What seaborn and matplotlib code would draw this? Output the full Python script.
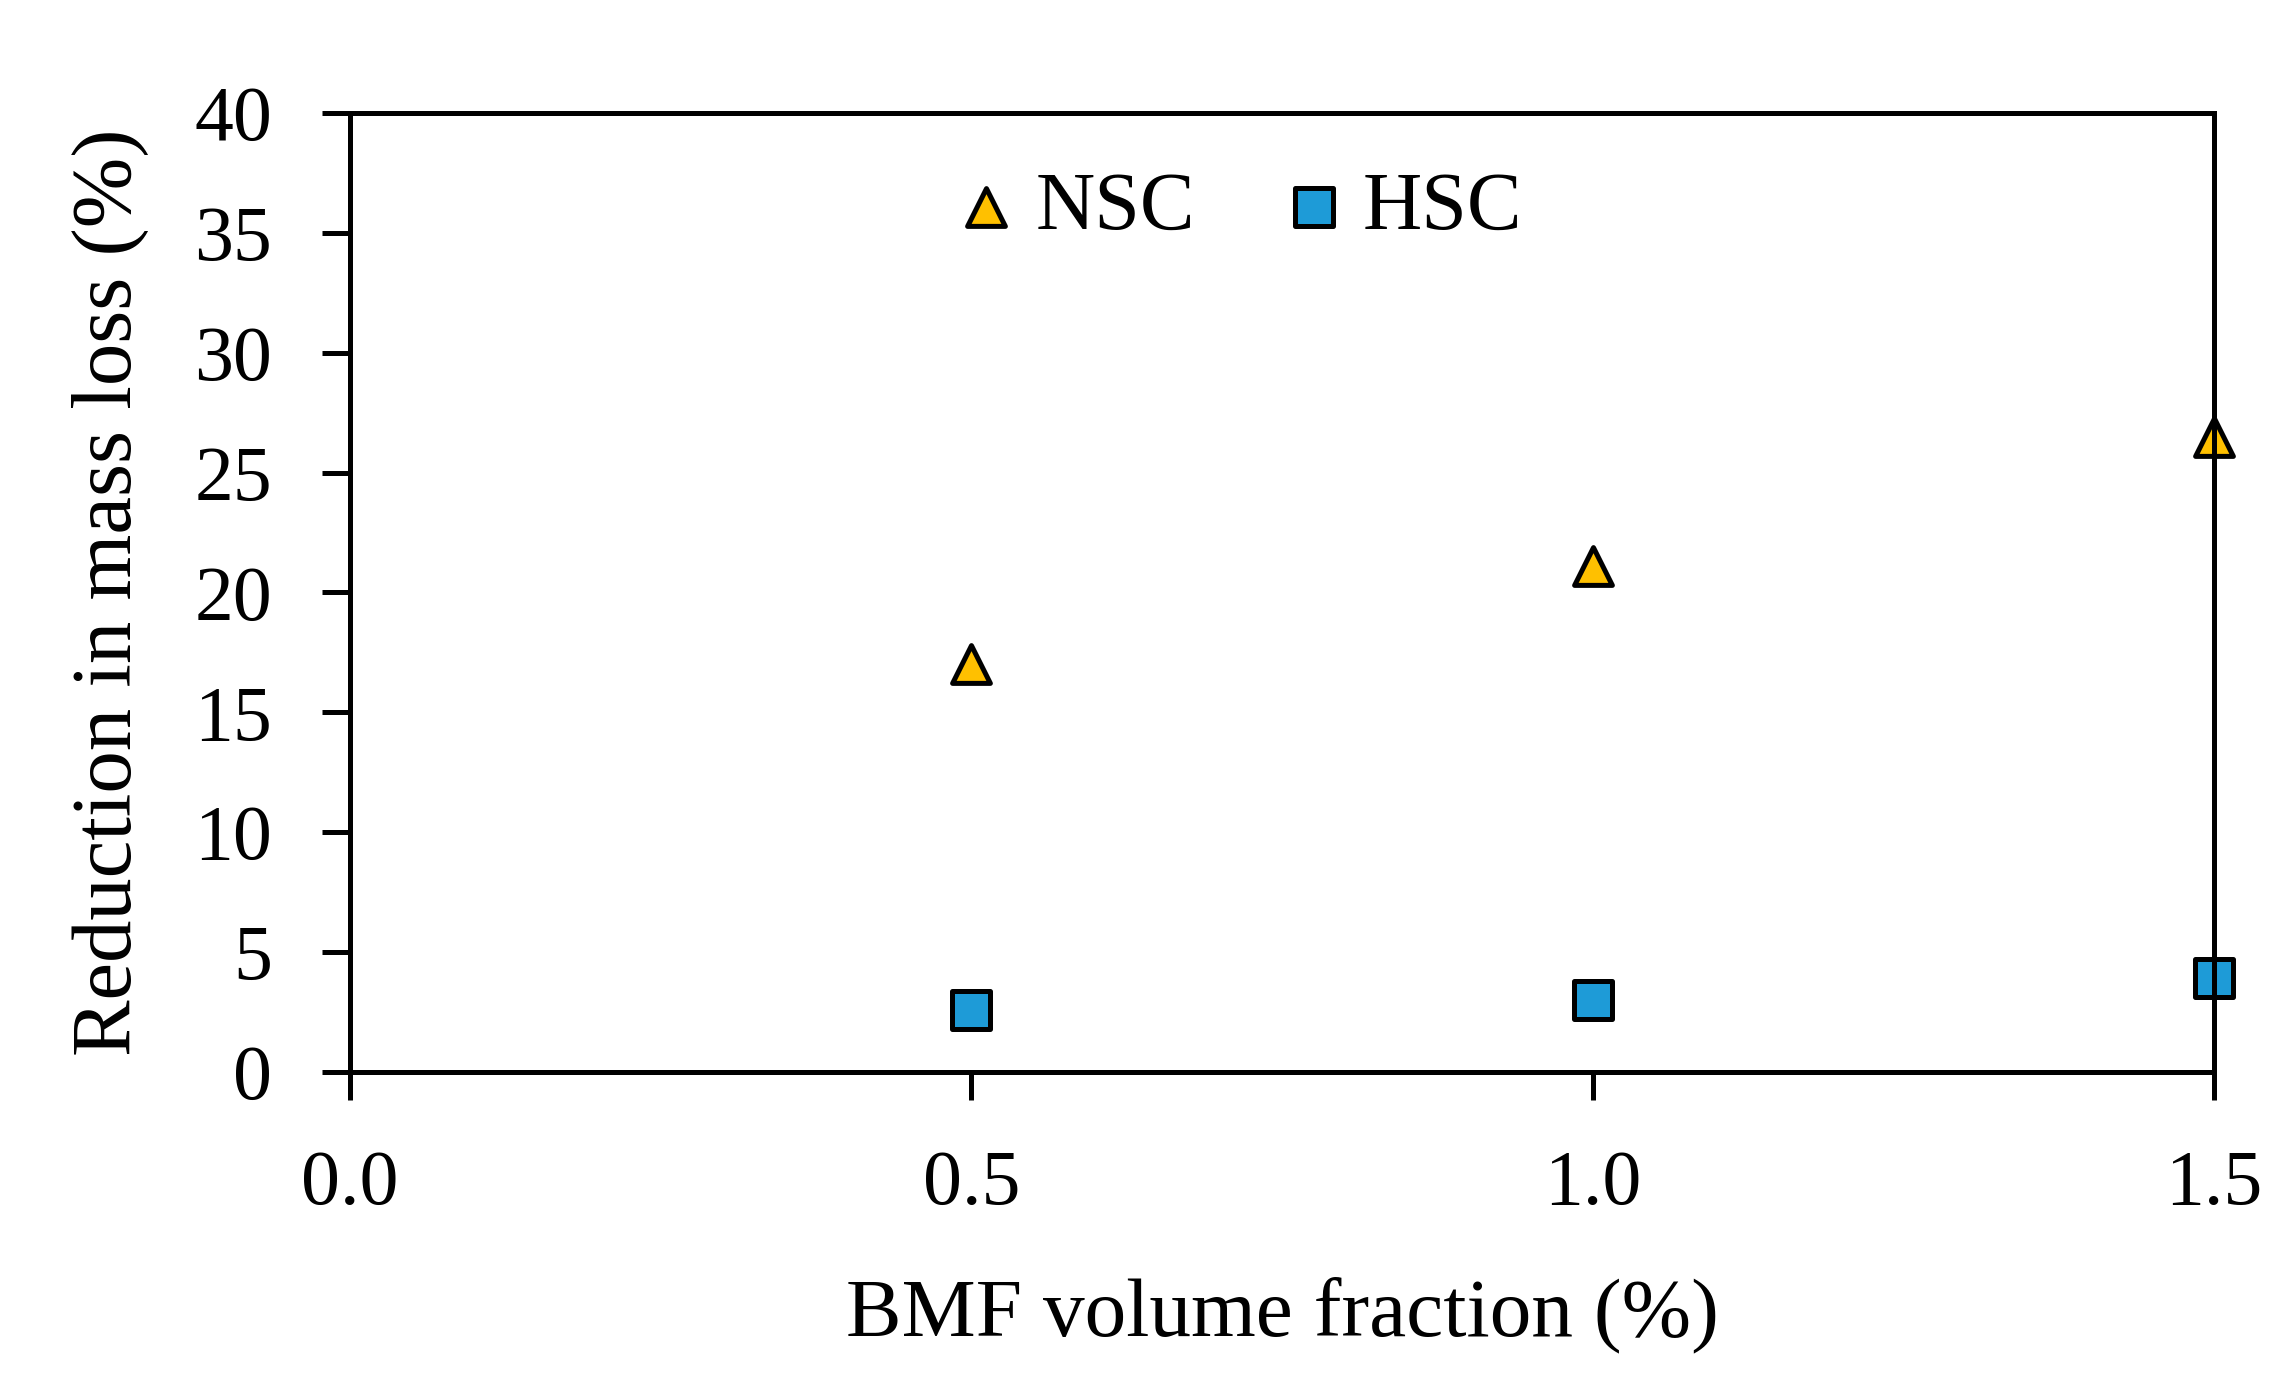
import pandas as pd
import seaborn as sns
import matplotlib.pyplot as plt

# values
bmf_fraction = [0.5, 1.0, 1.5]
nsc_reduction = [17.0, 21.1, 26.5]
hsc_reduction = [2.6, 3.0, 3.9]

x_ticks = [0.0, 0.5, 1.0, 1.5]
x_tick_labels = ['0.0', '0.5', '1.0', '1.5']
y_ticks = [0, 5, 10, 15, 20, 25, 30, 35, 40]

NSC_COLOR = '#FFC000'
HSC_COLOR = '#1E9BD7'


def main():
    sns.set_style("ticks")
    plt.rcParams['font.family'] = ['Liberation Serif', 'DejaVu Serif']
    plt.rcParams['text.color'] = 'black'
    plt.rcParams['axes.labelcolor'] = 'black'

    fig = plt.figure(figsize=(22.89, 13.75), dpi=100)
    ax = fig.add_axes([0.1529, 0.2204, 0.8143, 0.6975])

    nsc = pd.DataFrame({'bmf': bmf_fraction, 'reduction': nsc_reduction})
    hsc = pd.DataFrame({'bmf': bmf_fraction, 'reduction': hsc_reduction})

    marker_kws = dict(s=740, edgecolor='black', linewidth=3.6, clip_on=False, legend=False, ax=ax)
    sns.scatterplot(data=nsc, x='bmf', y='reduction', marker='^', color=NSC_COLOR, label='NSC', **marker_kws)
    sns.scatterplot(data=hsc, x='bmf', y='reduction', marker='s', color=HSC_COLOR, label='HSC', **marker_kws)

    ax.set_xlim(0, 1.5)
    ax.set_ylim(0, 40)
    ax.set_xticks(x_ticks)
    ax.set_xticklabels(x_tick_labels)
    ax.set_yticks(y_ticks)

    for side in ['left', 'right', 'top', 'bottom']:
        ax.spines[side].set_visible(True)
        ax.spines[side].set_linewidth(3.6)
        ax.spines[side].set_color('black')
    ax.tick_params(direction='out', length=20, width=3.6, pad=36, labelsize=56, colors='black')

    ax.set_xlabel('BMF volume fraction (%)', fontsize=60, labelpad=40)
    ax.set_ylabel('Reduction in mass loss (%)', fontsize=61, labelpad=33)

    ax.legend(loc='center', bbox_to_anchor=(0.5417, 0.848), bbox_transform=fig.transFigure,
              ncol=2, frameon=False, fontsize=59, scatterpoints=1,
              handlelength=0.7, handletextpad=0.25, columnspacing=1.1)

    fig.savefig('out.png', dpi=100)
    plt.close(fig)


if __name__ == "__main__":
    main()
